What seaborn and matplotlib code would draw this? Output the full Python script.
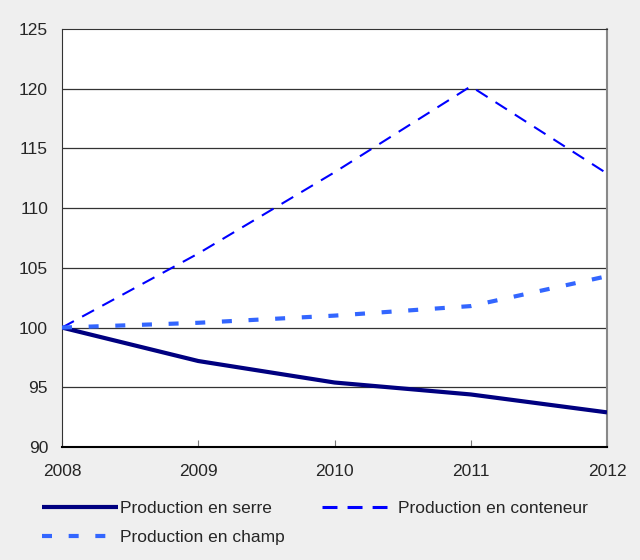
import matplotlib
matplotlib.use("Agg")
import matplotlib.pyplot as plt
from matplotlib.lines import Line2D
import seaborn as sns
import pandas as pd

# Values (index 2008 = 100)
years = [2008, 2009, 2010, 2011, 2012]
serre = [100.0, 97.2, 95.4, 94.4, 92.9]
conteneur = [100.0, 106.2, 113.0, 120.2, 112.9]
champ = [100.0, 100.4, 101.0, 101.8, 104.3]
yticks = [90, 95, 100, 105, 110, 115, 120, 125]

sns.set_style("white")
plt.rcParams['font.family'] = ['Liberation Sans', 'DejaVu Sans']
FS = 12.5

fig = plt.figure(figsize=(6.4, 5.6), dpi=100, facecolor="#efefef")
ax = fig.add_axes([62 / 640, 1 - 447 / 560, 545 / 640, 418 / 560])
ax.set_facecolor("white")

series = [
    ("Production en serre", serre, "#000080", 3.0, None),
    ("Production en conteneur", conteneur, "#0000ff", 1.5, (6.5, 4.5)),
    ("Production en champ", champ, "#3366ff", 3.0, (2.4, 4.0)),
]

handles = {}
for label, vals, color, lw, dash in series:
    df = pd.DataFrame({"year": years, "value": vals})
    sns.lineplot(data=df, x="year", y="value", ax=ax, color=color, linewidth=lw,
                 legend=False, zorder=3)
    line = ax.lines[-1]
    if dash is not None:
        line.set_dashes(dash)
    line.set_solid_capstyle("butt")
    handles[label] = line

ax.set_xlim(2008, 2012)
ax.set_ylim(90, 125)
ax.set_yticks(yticks)
ax.set_xticks(years)
ax.set_xticklabels([str(y) for y in years])
ax.set_xlabel("")
ax.set_ylabel("")

for y in yticks[1:-1]:
    ax.axhline(y, color="#333333", linewidth=0.9, zorder=1)

ax.tick_params(axis="y", length=0, pad=10, labelsize=FS)
ax.tick_params(axis="x", direction="in", length=5, width=0.8, color="#777777",
               pad=12, labelsize=FS, bottom=True)

for side in ["top", "left", "right", "bottom"]:
    ax.spines[side].set_visible(True)
ax.spines["top"].set_color("#333333")
ax.spines["left"].set_color("#333333")
ax.spines["right"].set_color("#888888")
ax.spines["bottom"].set_color("black")
ax.spines["bottom"].set_linewidth(1.5)
ax.spines["right"].set_linewidth(1.5)

# legend: left column (serre, champ), right column (conteneur)
leg1 = fig.legend([handles["Production en serre"], handles["Production en champ"]],
                  ["Production en serre", "Production en champ"],
                  frameon=False, loc="upper left", bbox_to_anchor=(42 / 640, 1 - 501 / 560),
                  borderpad=0, borderaxespad=0, fontsize=FS, handlelength=4.38,
                  handletextpad=0.1, labelspacing=0.8)
cont_handle = Line2D([], [], color="#0000ff", linewidth=2.2, dashes=(4.9, 3.3),
                     solid_capstyle="butt", dash_capstyle="butt")
leg2 = fig.legend([cont_handle], ["Production en conteneur"],
                  frameon=False, loc="upper left", bbox_to_anchor=(322 / 640, 1 - 501 / 560),
                  borderpad=0, borderaxespad=0, fontsize=FS, handlelength=3.74,
                  handletextpad=0.63)

fig.savefig("out.png", dpi=100, facecolor=fig.get_facecolor())
